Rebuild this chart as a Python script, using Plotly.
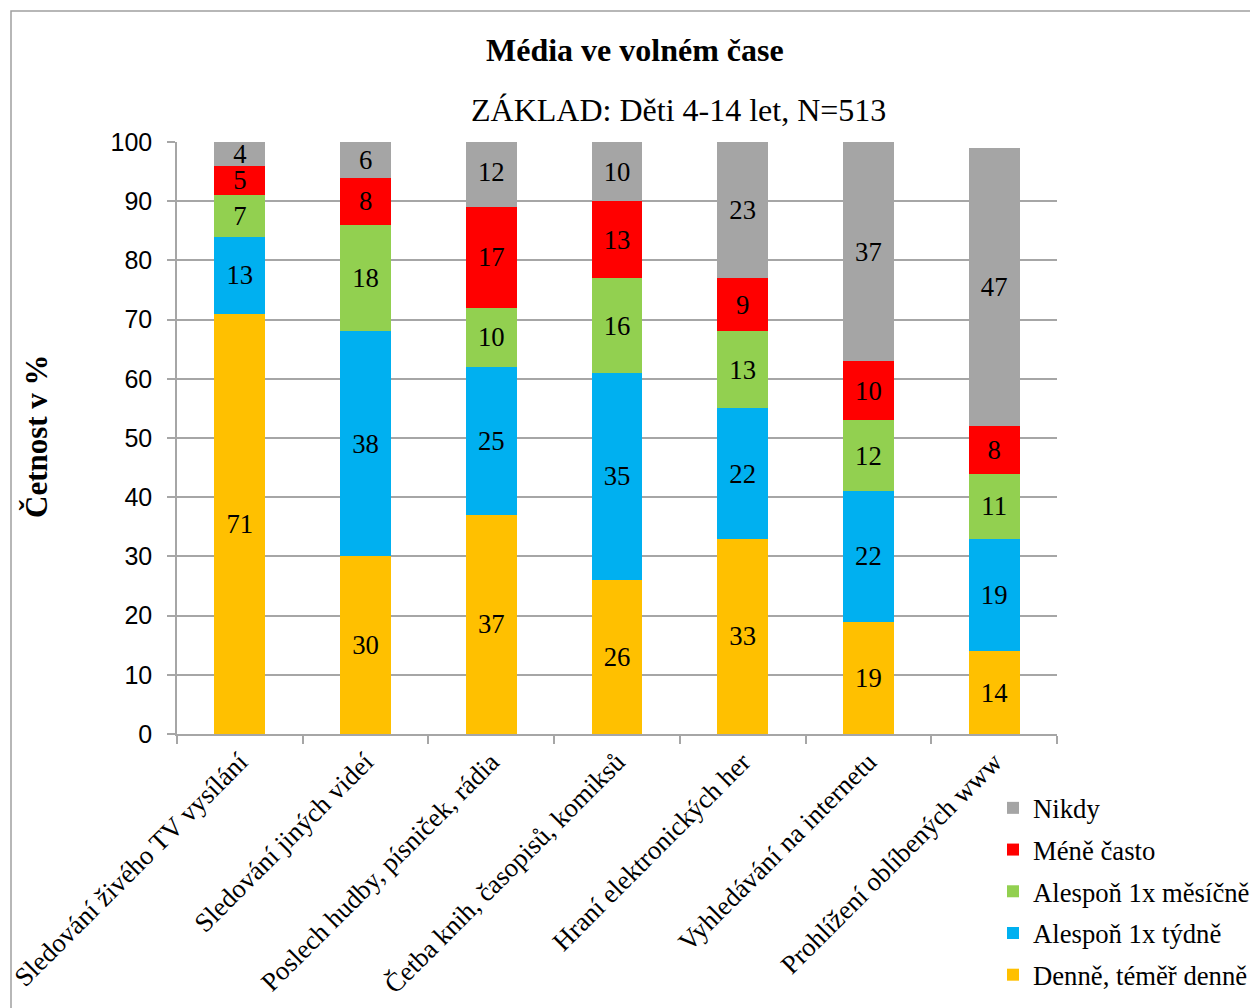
import plotly.graph_objects as go

categories = [
    "Sledování živého TV vysílání",
    "Sledování jiných videí",
    "Poslech hudby, písniček, rádia",
    "Četba knih, časopisů, komiksů",
    "Hraní elektronických her",
    "Vyhledávání na internetu",
    "Prohlížení oblíbených www",
]
denne = [71, 30, 37, 26, 33, 19, 14]
tydne = [13, 38, 25, 35, 22, 22, 19]
mesicne = [7, 18, 10, 16, 13, 12, 11]
mene = [5, 8, 17, 13, 9, 10, 8]
nikdy = [4, 6, 12, 10, 23, 37, 47]

series = [
    ("Denně, téměř denně", denne, "#FFC000"),
    ("Alespoň 1x týdně", tydne, "#00B0F0"),
    ("Alespoň 1x měsíčně", mesicne, "#92D050"),
    ("Méně často", mene, "#FF0000"),
    ("Nikdy", nikdy, "#A5A5A5"),
]

SERIF = "Liberation Serif"
SANS = "Liberation Sans"
FS = 26.7

fig = go.Figure()
n = len(series)
for i, (name, vals, col) in enumerate(series):
    fig.add_trace(go.Bar(
        x=categories, y=vals, name=name,
        marker=dict(color=col, line=dict(width=0)),
        text=[str(v) for v in vals],
        textposition="inside", insidetextanchor="middle", textangle=0,
        textfont=dict(family=SERIF, size=FS, color="black"),
        legendgroup=f"g{i}", legendrank=n - i,
        hoverinfo="skip",
    ))

W, H = 1250, 1008
L, R, T, B = 177, 193, 142, 274
pw, ph = W - L - R, H - T - B

def px(x):
    return (x - L) / pw

def py(y):
    return (H - B - y) / ph

fig.update_layout(
    width=W, height=H,
    margin=dict(l=L, r=R, t=T, b=B, autoexpand=False),
    barmode="stack", bargap=0.595,
    plot_bgcolor="white", paper_bgcolor="white",
    uniformtext=dict(minsize=FS, mode="show"),
    font=dict(family=SERIF, size=FS, color="black"),
    showlegend=True,
    legend=dict(
        x=px(993), y=py(784), xanchor="left", yanchor="top",
        traceorder="grouped", tracegroupgap=4,
        font=dict(family=SERIF, size=FS, color="black"),
        bgcolor="rgba(0,0,0,0)",
    ),
    xaxis=dict(
        tickangle=-45, tickson="boundaries", ticks="outside", ticklen=8,
        tickcolor="#A6A6A6", tickwidth=1.5,
        showline=True, linecolor="#A6A6A6", linewidth=1.5,
        tickfont=dict(family=SERIF, size=FS, color="black"),
        automargin=False, showgrid=False,
    ),
    yaxis=dict(
        range=[0, 100], dtick=10, ticks="outside", ticklen=8,
        tickcolor="#A6A6A6", tickwidth=1.5,
        showline=True, linecolor="#A6A6A6", linewidth=1.5,
        showgrid=True, gridcolor="#A6A6A6", gridwidth=1.5,
        tickfont=dict(family=SANS, size=25, color="black"),
        ticklabelstandoff=10,
        automargin=False, zeroline=False,
    ),
    annotations=[
        dict(text="<b>Média ve volném čase</b>", xref="paper", yref="paper",
             x=px(635), y=py(50), xanchor="center", yanchor="middle",
             showarrow=False, font=dict(family=SERIF, size=32, color="black")),
        dict(text="ZÁKLAD: Děti 4-14 let, N=513", xref="paper", yref="paper",
             x=px(678), y=py(110), xanchor="center", yanchor="middle",
             showarrow=False, font=dict(family=SERIF, size=32, color="black")),
        dict(text="<b>Četnost v %</b>", xref="paper", yref="paper",
             x=px(36), y=py(436), xanchor="center", yanchor="middle",
             textangle=-90, showarrow=False,
             font=dict(family=SERIF, size=31, color="black")),
    ],
    shapes=[
        dict(type="rect", xref="paper", yref="paper",
             x0=px(11), y0=py(1012), x1=px(1254), y1=py(11),
             line=dict(color="#A0A0A0", width=1.5), layer="below"),
    ],
)

fig.write_html("out.html")
